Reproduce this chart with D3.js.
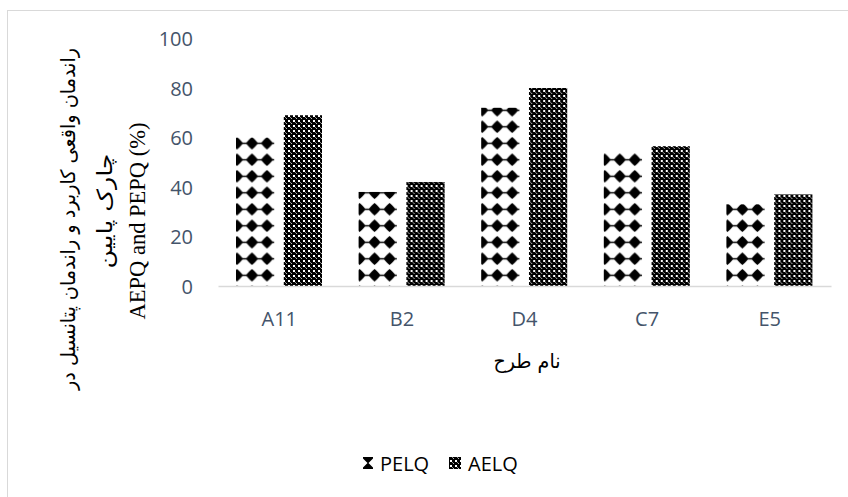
<!DOCTYPE html>
<html>
<head>
<meta charset="utf-8">
<script src="https://cdn.jsdelivr.net/npm/d3@7/dist/d3.min.js"></script>
<style>
  html, body { margin: 0; padding: 0; background: #fff; }
  svg { display: block; }
</style>
</head>
<body>
<svg id="chart" width="848" height="497"></svg>
<script>
// Design names and the two efficiency series (%)
const categories = ["A11", "B2", "D4", "C7", "E5"];
const seriesNames = ["PELQ", "AELQ"];
const pelqValues = [60, 38, 72, 54, 33];
const aelqValues = [69, 42, 80, 56.5, 37];
const yTicks = [0, 20, 40, 60, 80, 100];

const xTitle = "نام طرح";
const yTitleLines = ["راندمان واقعی کاربرد و راندمان پتانسیل در", "چارک پایین", "AEPQ and PEPQ (%)"];

const svg = d3.select("#chart");
const plot = { left: 218, right: 831, top: 38.5, bottom: 286 };
const tickColor = "#44546a";
const sansFont = "'Open Sans', Lato, sans-serif";
const arabicFont = "'DejaVu Sans', sans-serif";

// Fill patterns for the two series
const defs = svg.append("defs");
const pDiamond = defs.append("pattern")
  .attr("id", "pat-pelq").attr("patternUnits", "userSpaceOnUse")
  .attr("width", 15).attr("height", 16.5).attr("x", 236.5).attr("y", 3);
pDiamond.append("rect").attr("width", 15).attr("height", 16.5).attr("fill", "#fff");
pDiamond.append("rect").attr("x", 0).attr("y", 7.6).attr("width", 15).attr("height", 1.4).attr("fill", "#000");
pDiamond.append("path")
  .attr("d", "M7.5,2 C9.2,3.6 11.6,5.6 13.4,8.3 C11.6,11 9.2,13 7.5,14.6 C5.8,13 3.4,11 1.6,8.3 C3.4,5.6 5.8,3.6 7.5,2 Z")
  .attr("fill", "#000");

const pFine = defs.append("pattern")
  .attr("id", "pat-aelq").attr("patternUnits", "userSpaceOnUse")
  .attr("width", 5).attr("height", 5);
pFine.append("rect").attr("width", 5).attr("height", 5).attr("fill", "#000");
pFine.append("rect").attr("x", 0).attr("y", 0).attr("width", 2).attr("height", 2).attr("fill", "#fff");
pFine.append("rect").attr("x", 3).attr("y", 3).attr("width", 1).attr("height", 1).attr("fill", "#bbb");
pFine.append("rect").attr("x", 2).attr("y", 2).attr("width", 1).attr("height", 1).attr("fill", "#888");

// Chart area frame
svg.append("rect")
  .attr("x", 7.5).attr("y", 10.5).attr("width", 1000).attr("height", 1000)
  .attr("fill", "none").attr("stroke", "#d9d9d9").attr("stroke-width", 1);

// Scales
const x0 = d3.scaleBand().domain(categories).range([plot.left, plot.right]).padding(0);
const x1 = d3.scaleBand().domain(seriesNames).range([18, 104]).paddingInner(0.2);
const y = d3.scaleLinear().domain([0, 100]).range([plot.bottom, plot.top]);

// Y axis tick labels
const yAxis = d3.axisLeft(y).tickValues(yTicks).tickSize(0).tickPadding(0);
const yg = svg.append("g").attr("transform", "translate(193,0)").call(yAxis);
yg.select(".domain").remove();
yg.selectAll("text")
  .attr("fill", tickColor).attr("font-family", sansFont).attr("font-size", 20)
  .attr("dy", "0.36em");

// Bars
const rows = categories.map((c, i) => ({ cat: c, vals: [
  { s: "PELQ", v: pelqValues[i], fill: "url(#pat-pelq)" },
  { s: "AELQ", v: aelqValues[i], fill: "url(#pat-aelq)" }
]}));
const groups = svg.append("g").selectAll("g").data(rows).join("g")
  .attr("transform", d => `translate(${x0(d.cat)},0)`);
groups.selectAll("rect").data(d => d.vals).join("rect")
  .attr("x", d => x1(d.s))
  .attr("width", x1.bandwidth())
  .attr("y", d => y(d.v))
  .attr("height", d => y(0) - y(d.v))
  .attr("fill", d => d.fill);

// X axis
const xAxis = d3.axisBottom(x0).tickSize(0).tickPadding(0);
const xg = svg.append("g").attr("transform", `translate(0,${plot.bottom})`).call(xAxis);
xg.select(".domain").attr("stroke", "#d9d9d9").attr("stroke-width", 1.5);
xg.selectAll("text")
  .attr("fill", tickColor).attr("font-family", sansFont).attr("font-size", 20)
  .attr("y", 40).attr("dy", 0);

// Axis titles
svg.append("text")
  .attr("x", 527).attr("y", 368)
  .attr("text-anchor", "middle")
  .attr("font-family", arabicFont).attr("font-size", 20)
  .attr("textLength", 67).attr("lengthAdjust", "spacingAndGlyphs")
  .attr("fill", "#000").text(xTitle);

const titleSpec = [
  { x: 75, cy: 219, font: arabicFont, size: 20, len: 342 },
  { x: 112, cy: 211, font: arabicFont, size: 21, len: 115 },
  { x: 145, cy: 221, font: "'Liberation Serif', serif", size: 22.5, len: null }
];
yTitleLines.forEach((t, i) => {
  const s = titleSpec[i];
  const txt = svg.append("text")
    .attr("transform", `translate(${s.x},${s.cy}) rotate(-90)`)
    .attr("text-anchor", "middle")
    .attr("font-family", s.font)
    .attr("font-size", s.size)
    .attr("fill", "#000").text(t);
  if (s.len) txt.attr("textLength", s.len).attr("lengthAdjust", "spacingAndGlyphs");
});

// Legend
const legend = svg.append("g");
legend.append("path")
  .attr("d", "M363,457 H373 V458.5 L368.5,463 L373,467.5 V469 H363 V467.5 L367.5,463 L363,458.5 Z")
  .attr("fill", "#000");
legend.append("text").attr("x", 380).attr("y", 471)
  .attr("font-family", sansFont).attr("font-size", 20).attr("fill", "#000").text("PELQ");
legend.append("rect").attr("x", 449).attr("y", 457).attr("width", 12).attr("height", 12)
  .attr("fill", "url(#pat-aelq)");
legend.append("text").attr("x", 468).attr("y", 471)
  .attr("font-family", sansFont).attr("font-size", 20).attr("fill", "#000").text("AELQ");
</script>
</body>
</html>
